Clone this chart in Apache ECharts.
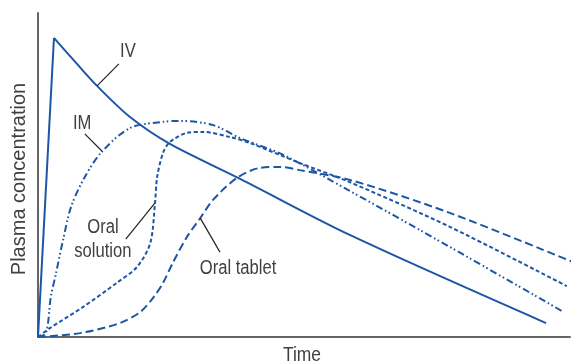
<!DOCTYPE html>
<html>
<head>
<meta charset="utf-8">
<script src="https://cdn.jsdelivr.net/npm/echarts@6/dist/echarts.min.js"></script>
<style>html,body{margin:0;padding:0;background:#fff}#c{width:573px;height:364px}</style>
</head>
<body>
<div id="c"></div>
<script>
// Data (time, concentration) in arbitrary units
var ivRise = [[0,0],[3.0,92.3]];
var ivDecay = [[3.0,92.3],[7.0,84.9],[11.1,77.5],[17.3,67.9],[24.8,59.6],[38.0,48.8],[58.6,31.5],[95.5,4.3]];
var im = [[0,0],[1.5,1.2],[2.4,12.3],[3.4,19.8],[4.7,29.9],[6.2,40.1],[8.5,48.5],[11.8,56.8],[17.3,64.5],[23.5,66.4],[26.7,66.7],[32.9,65.4],[38.0,61.4],[46.1,56.2],[58.6,45.1],[77.4,27.8],[98.5,8.0]];
var oralSolution = [[0,0],[2.3,2.8],[8.5,9.3],[14.8,16.7],[18.6,21.6],[21.1,29.0],[22.0,41.4],[22.4,49.4],[23.5,56.8],[24.8,60.2],[28.0,63.0],[31.0,63.3],[36.1,61.7],[39.8,59.9],[49.2,53.7],[58.6,47.8],[77.4,34.0],[99.4,15.7]];
var oralTablet = [[0,0],[7.9,1.2],[15.4,4.3],[19.2,7.7],[21.6,12.0],[23.5,16.7],[25.4,23.1],[28.0,30.9],[30.5,36.7],[32.9,42.3],[37.4,49.1],[41.7,52.2],[45.5,52.5],[49.2,51.5],[58.6,48.5],[77.4,38.3],[100.6,23.1]];
// Annotation labels and leader lines
var labelNames = ['IV','IM','Oral\nsolution','Oral tablet'];
var labelPos = [[16.9,88.0],[8.3,66.0],[12.2,30.2],[37.6,21.0]];
var leaders = [
  [[11.1,77.5],[15.2,84.3]],
  [[8.8,62.7],[12.0,57.4]],
  [[16.5,30.2],[22.0,41.4]],
  [[30.5,36.7],[34.2,26.2]]
];
var xTitle = 'Time';
var yTitle = 'Plasma concentration';

var blue = '#1c56a5';
var textColor = '#404040';
var font = '"Liberation Sans",Arial,sans-serif';
var chart = echarts.init(document.getElementById('c'));
var series = [];
function curve(data, type, smooth){
  series.push({type:'line', data:data, showSymbol:false, smooth:smooth, clip:false,
    lineStyle:{color:blue, width:2, type:type, cap:'butt'}, silent:true, animation:false});
}
curve(ivRise, 'solid', false);
curve(ivDecay, 'solid', 0.3);
curve(im, [7,3,1.6,2.5,1.6,3], 0.3);
curve(oralSolution, [4,2.5], 0.3);
curve(oralTablet, [8,4], 0.3);
leaders.forEach(function(l){
  series.push({type:'line', data:l, showSymbol:false, lineStyle:{color:'#222', width:1.2}, silent:true, animation:false});
});
chart.setOption({
  animation:false,
  grid:{left:38, right:3, top:13, bottom:27},
  xAxis:{type:'value', min:0, max:100,
    axisLine:{show:true, lineStyle:{color:'#666', width:2}}, axisTick:{show:false}, axisLabel:{show:false}, splitLine:{show:false}},
  yAxis:{type:'value', min:0, max:100,
    axisLine:{show:true, lineStyle:{color:'#666', width:2}}, axisTick:{show:false}, axisLabel:{show:false}, splitLine:{show:false}},
  series:series
});
var graphics = labelPos.map(function(p,i){
  var px = chart.convertToPixel({gridIndex:0}, p);
  return {type:'text', x:px[0], y:px[1], scaleX:0.83, silent:true,
    style:{text:labelNames[i], font:'20px '+font, fill:textColor, align:'center', verticalAlign:'middle', lineHeight:24}};
});
graphics.push({type:'text', x:302, y:355, scaleX:0.83, silent:true,
  style:{text:xTitle, font:'21px '+font, fill:textColor, align:'center', verticalAlign:'middle'}});
graphics.push({type:'text', x:19, y:179, rotation:Math.PI/2, scaleX:1.0, silent:true,
  style:{text:yTitle, font:'20px '+font, fill:textColor, align:'center', verticalAlign:'middle'}});
chart.setOption({graphic:graphics});
</script>
</body>
</html>
